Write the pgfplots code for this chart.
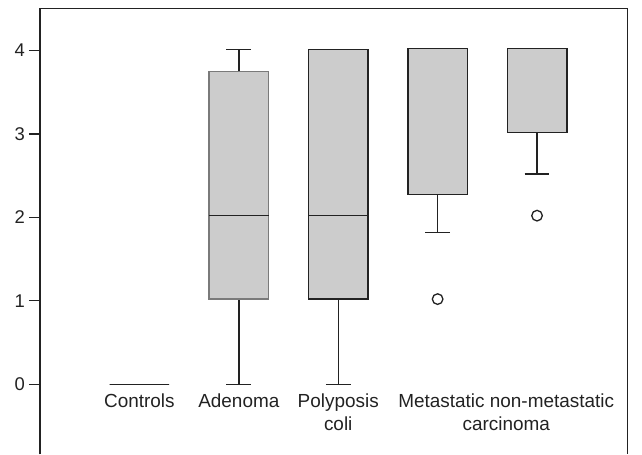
\documentclass[border=0pt]{standalone}
\usepackage{fontspec}
\setmainfont{Liberation Sans}
\usepackage{pgfplots}
\pgfplotsset{compat=1.18}
\usepgfplotslibrary{statistics}
\definecolor{boxfill}{HTML}{CCCCCC}
\definecolor{ink}{HTML}{222222}
\definecolor{adeno}{HTML}{7A7A7A}
\begin{document}
\begin{tikzpicture}
\begin{axis}[
  name=ax,
  scale only axis, width=587.5bp, height=446bp,
  xmin=0, xmax=5.91, ymin=-0.84, ymax=4.505,
  axis line style={draw=none},
  clip=false,
  ytick={0,1,2,3,4}, ytick pos=left, tick align=outside, major tick length=11bp,
  ytick style={draw=ink, line width=1.3bp},
  xtick={1,2,3,4.69}, xtick style={draw=none},
  xticklabels={Controls, Adenoma, Polyposis\\coli, Metastatic non-metastatic\\carcinoma},
  xticklabel style={align=center, anchor=north, inner sep=0pt, yshift=72bp, font=\fontsize{19}{23.5}\selectfont, text=ink},
  yticklabel style={anchor=east, inner sep=0pt, xshift=-4bp, font=\fontsize{18.5}{20}\selectfont, text=ink},
  /pgf/number format/assume math mode=true,
  boxplot/draw direction=y,
  boxplot/box extend=0.6, boxplot/whisker extend=0.25,
  every axis plot/.append style={line width=1.4bp},
]
\coordinate (bl) at (rel axis cs:0,0);
\coordinate (tr) at (rel axis cs:1,1);
\draw[ink, line width=1.4bp] (rel axis cs:0,0) -- (rel axis cs:0,1) -- (rel axis cs:1,1) -- (rel axis cs:1,0);
% Controls
\addplot[draw=ink, fill=boxfill, boxplot prepared={draw position=1, lower whisker=0, lower quartile=0, median=0, upper quartile=0, upper whisker=0}, boxplot/whisker extend=0] coordinates {};
% Adenoma
\addplot[draw=adeno, fill=boxfill, boxplot prepared={draw position=2, lower whisker=0, lower quartile=1.02, median=2.02, upper quartile=3.75, upper whisker=4.01}, boxplot/every whisker/.style={draw=ink}, boxplot/every median/.style={draw=ink}] coordinates {};
% Polyposis coli
\addplot[draw=ink, fill=boxfill, boxplot prepared={draw position=3, lower whisker=0, lower quartile=1.02, median=2.02, upper quartile=4.01, upper whisker=4.01}] coordinates {};
% Metastatic
\addplot[draw=ink, fill=boxfill, mark=o, mark size=5.3bp, mark options={draw=ink, fill=white, line width=1.3bp},
  boxplot prepared={draw position=4, lower whisker=1.82, lower quartile=2.27, median=4.02, upper quartile=4.02, upper whisker=4.02}] coordinates {(4,1.02)};
% non-metastatic carcinoma
\addplot[draw=ink, fill=boxfill, mark=o, mark size=5.3bp, mark options={draw=ink, fill=white, line width=1.3bp},
  boxplot prepared={draw position=5, lower whisker=2.52, lower quartile=3.02, median=4.02, upper quartile=4.02, upper whisker=4.02}] coordinates {(5,2.02)};
\end{axis}
\pgfresetboundingbox
\path ([xshift=-40bp]bl) rectangle ([xshift=14.5bp,yshift=8.3bp]tr);
\end{tikzpicture}
\end{document}
